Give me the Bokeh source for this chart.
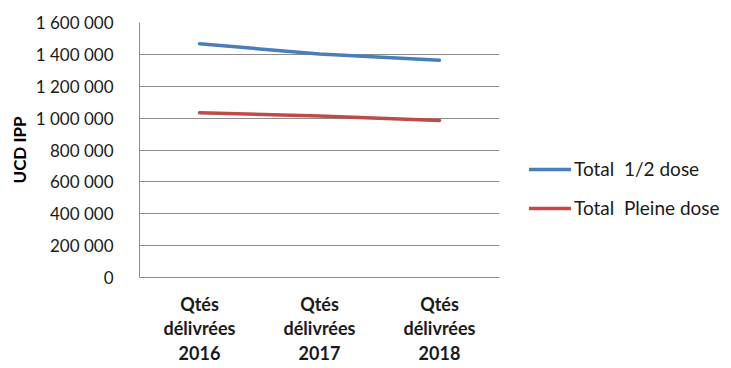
from bokeh.plotting import figure
from bokeh.layouts import row
from bokeh.models import FixedTicker, Legend, LegendItem, ColumnDataSource
from bokeh.embed import file_html
from bokeh.resources import INLINE

# Quantities delivered per year (one factor per year, three text lines each)
categories = ["Qtés\ndélivrées\n2016", "Qtés\ndélivrées\n2017", "Qtés\ndélivrées\n2018"]
half_dose = [1467000, 1402000, 1363000]
full_dose = [1034000, 1013000, 985000]
series_names = ["Total  1/2 dose", "Total  Pleine dose"]
series_colors = ["#4a7ebb", "#be4b48"]

y_ticks = [0, 200000, 400000, 600000, 800000, 1000000, 1200000, 1400000, 1600000]
y_tick_labels = ["0", "200 000", "400 000", "600 000", "800 000",
                 "1 000 000", "1 200 000", "1 400 000", "1 600 000"]

FONT = "Lato"
GRID = "#8c8c8c"
H = 368

p = figure(width=500, height=H, x_range=categories, y_range=(0, 1600000),
           output_backend="svg", toolbar_location=None,
           min_border_left=139, min_border_right=1,
           min_border_top=22, min_border_bottom=91)
p.outline_line_color = None
p.background_fill_color = "white"
p.border_fill_color = "white"

src = ColumnDataSource(dict(x=categories, half=half_dose, full=full_dose))
p.line("x", "half", source=src, line_color=series_colors[0], line_width=3.5,
       line_cap="round")
p.line("x", "full", source=src, line_color=series_colors[1], line_width=3.5,
       line_cap="round")

# y axis
yax = p.yaxis[0]
yax.ticker = FixedTicker(ticks=y_ticks)
yax.major_label_overrides = {t: s for t, s in zip(y_ticks, y_tick_labels)}
yax.major_tick_line_color = None
yax.minor_tick_line_color = None
yax.axis_line_color = GRID
yax.major_label_text_font = FONT
yax.major_label_text_font_size = "17px"
yax.major_label_text_color = "#1a1a1a"
yax.major_label_standoff = 20
yax.axis_label = "UCD IPP"
yax.axis_label_text_font = FONT
yax.axis_label_text_font_style = "bold"
yax.axis_label_text_font_size = "17px"
yax.axis_label_text_color = "#000000"
yax.axis_label_standoff = 3

# x axis
xax = p.xaxis[0]
xax.major_tick_line_color = None
xax.minor_tick_line_color = None
xax.axis_line_color = GRID
xax.major_label_text_font = FONT
xax.major_label_text_font_style = "bold"
xax.major_label_text_font_size = "18px"
xax.major_label_text_color = "#1a1a1a"
xax.major_label_standoff = 9
xax.major_label_text_line_height = 1.13

p.xgrid.grid_line_color = None
p.ygrid.grid_line_color = GRID
p.ygrid.ticker = FixedTicker(ticks=y_ticks)

# Legend panel to the right of the chart; its sample lines sit outside the
# visible range so only the legend entries show
lg = figure(width=231, height=H, x_range=(0, 1), y_range=(0, 1),
            output_backend="svg", toolbar_location=None,
            min_border=0, outline_line_color=None)
lg.axis.visible = False
lg.grid.visible = False
lg.background_fill_color = "white"
lg.border_fill_color = "white"
items = []
for name, color in zip(series_names, series_colors):
    r = lg.line([5, 6], [5, 6], line_color=color, line_width=3.5, line_cap="round")
    items.append(LegendItem(label=name, renderers=[r]))

legend = Legend(items=items, location=(29, 58), orientation="vertical",
                background_fill_alpha=0, border_line_color=None,
                label_text_font=FONT, label_text_font_size="19px",
                label_text_color="#1a1a1a",
                glyph_width=42, glyph_height=20, label_standoff=3,
                spacing=16, padding=0, margin=0)
lg.add_layout(legend, "center")

layout = row(p, lg, spacing=0)
open("out.html", "w").write(file_html(layout, INLINE))
